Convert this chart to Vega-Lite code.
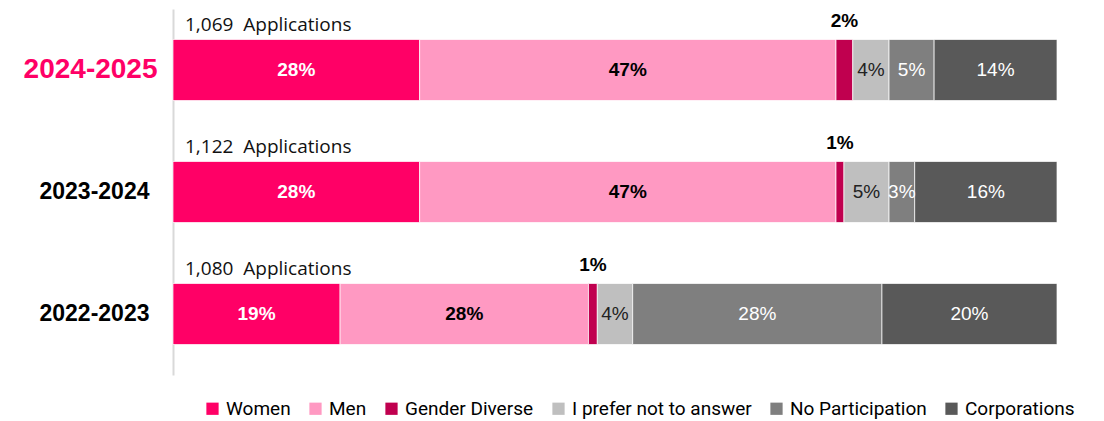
{
  "$schema": "https://vega.github.io/schema/vega-lite/v6.json",
  "width": 884,
  "height": 366,
  "autosize": {"type": "none"},
  "padding": {"left": 173, "top": 9, "right": 47, "bottom": 46},
  "config": {"view": {"stroke": null}, "font": "Liberation Sans"},
  "data": {
    "values": [
      {"year": "2024-2025", "category": "Women", "value": 27.9, "label": "28%", "order": 1},
      {"year": "2024-2025", "category": "Men", "value": 47.1, "label": "47%", "order": 2},
      {"year": "2024-2025", "category": "Gender Diverse", "value": 1.9, "label": "2%", "order": 3},
      {"year": "2024-2025", "category": "I prefer not to answer", "value": 4.1, "label": "4%", "order": 4},
      {"year": "2024-2025", "category": "No Participation", "value": 5.1, "label": "5%", "order": 5},
      {"year": "2024-2025", "category": "Corporations", "value": 13.9, "label": "14%", "order": 6},
      {"year": "2023-2024", "category": "Women", "value": 27.9, "label": "28%", "order": 1},
      {"year": "2023-2024", "category": "Men", "value": 47.1, "label": "47%", "order": 2},
      {"year": "2023-2024", "category": "Gender Diverse", "value": 0.9, "label": "1%", "order": 3},
      {"year": "2023-2024", "category": "I prefer not to answer", "value": 5.1, "label": "5%", "order": 4},
      {"year": "2023-2024", "category": "No Participation", "value": 2.9, "label": "3%", "order": 5},
      {"year": "2023-2024", "category": "Corporations", "value": 16.1, "label": "16%", "order": 6},
      {"year": "2022-2023", "category": "Women", "value": 18.9, "label": "19%", "order": 1},
      {"year": "2022-2023", "category": "Men", "value": 28.1, "label": "28%", "order": 2},
      {"year": "2022-2023", "category": "Gender Diverse", "value": 1.0, "label": "1%", "order": 3},
      {"year": "2022-2023", "category": "I prefer not to answer", "value": 4.0, "label": "4%", "order": 4},
      {"year": "2022-2023", "category": "No Participation", "value": 28.2, "label": "28%", "order": 5},
      {"year": "2022-2023", "category": "Corporations", "value": 19.8, "label": "20%", "order": 6}
    ]
  },
  "transform": [
    {"stack": "value", "groupby": ["year"], "sort": [{"field": "order"}], "as": ["x0", "x1"]},
    {"calculate": "(datum.x0 + datum.x1) / 2", "as": "mid"}
  ],
  "encoding": {
    "y": {
      "field": "year",
      "type": "nominal",
      "sort": ["2024-2025", "2023-2024", "2022-2023"],
      "scale": {"paddingInner": 0.5, "paddingOuter": 0.25},
      "axis": {
        "title": null,
        "ticks": false,
        "domainColor": "#D9D9D9",
        "domainWidth": 2,
        "labelFont": "Liberation Sans",
        "labelFontWeight": "bold",
        "labelFontSize": {"condition": {"test": "datum.value == '2024-2025'", "value": 28}, "value": 23},
        "labelColor": {"condition": {"test": "datum.value == '2024-2025'", "value": "#FF0066"}, "value": "#000000"},
        "labelPadding": {"condition": {"test": "datum.value == '2024-2025'", "value": 16}, "value": 24}
      }
    }
  },
  "layer": [
    {
      "mark": {"type": "bar", "stroke": "white", "strokeWidth": 1, "strokeOpacity": 0.7},
      "encoding": {
        "x": {"field": "x0", "type": "quantitative", "scale": {"domain": [0, 100], "nice": false, "zero": true}, "axis": null},
        "x2": {"field": "x1"},
        "color": {
          "field": "category",
          "type": "nominal",
          "scale": {
            "domain": ["Women", "Men", "Gender Diverse", "I prefer not to answer", "No Participation", "Corporations"],
            "range": ["#FF0066", "#FF99C2", "#C0004F", "#BFBFBF", "#7F7F7F", "#595959"]
          },
          "legend": {
            "title": null,
            "orient": "none",
            "legendX": 30,
            "legendY": 390,
            "direction": "horizontal",
            "symbolType": "square",
            "symbolSize": 150,
            "symbolStrokeWidth": 0,
            "labelFont": "Roboto",
            "labelFontSize": 19,
            "labelLimit": 0,
            "labelColor": "#000000",
            "labelOffset": 4,
            "columnPadding": 15
          }
        }
      }
    },
    {
      "transform": [{"filter": "datum.category == 'Women'"}],
      "mark": {"type": "text", "fontWeight": "bold", "fontSize": 19, "color": "white"},
      "encoding": {"x": {"field": "mid", "type": "quantitative"}, "text": {"field": "label"}}
    },
    {
      "transform": [{"filter": "datum.category == 'Men'"}],
      "mark": {"type": "text", "fontWeight": "bold", "fontSize": 19, "color": "#000000"},
      "encoding": {"x": {"field": "mid", "type": "quantitative"}, "text": {"field": "label"}}
    },
    {
      "transform": [{"filter": "datum.category == 'Gender Diverse'"}],
      "mark": {"type": "text", "fontWeight": "bold", "fontSize": 19, "color": "#000000", "dy": -49},
      "encoding": {"x": {"field": "mid", "type": "quantitative"}, "text": {"field": "label"}}
    },
    {
      "transform": [{"filter": "datum.category == 'I prefer not to answer'"}],
      "mark": {"type": "text", "fontSize": 19, "color": "#222222"},
      "encoding": {"x": {"field": "mid", "type": "quantitative"}, "text": {"field": "label"}}
    },
    {
      "transform": [{"filter": "datum.category == 'No Participation' || datum.category == 'Corporations'"}],
      "mark": {"type": "text", "fontSize": 19, "color": "white"},
      "encoding": {"x": {"field": "mid", "type": "quantitative"}, "text": {"field": "label"}}
    },
    {
      "transform": [{"filter": "datum.category == 'Women'"}],
      "mark": {"type": "text", "font": "Open Sans", "fontSize": 19, "color": "#111111", "align": "left", "dx": 12, "dy": -45},
      "encoding": {
        "x": {"datum": 0, "type": "quantitative"},
        "text": {"field": "apps"}
      },
      "data": {
        "values": [
          {"year": "2024-2025", "category": "Women", "apps": "1,069\u00a0 Applications"},
          {"year": "2023-2024", "category": "Women", "apps": "1,122\u00a0 Applications"},
          {"year": "2022-2023", "category": "Women", "apps": "1,080\u00a0 Applications"}
        ]
      }
    }
  ]
}
